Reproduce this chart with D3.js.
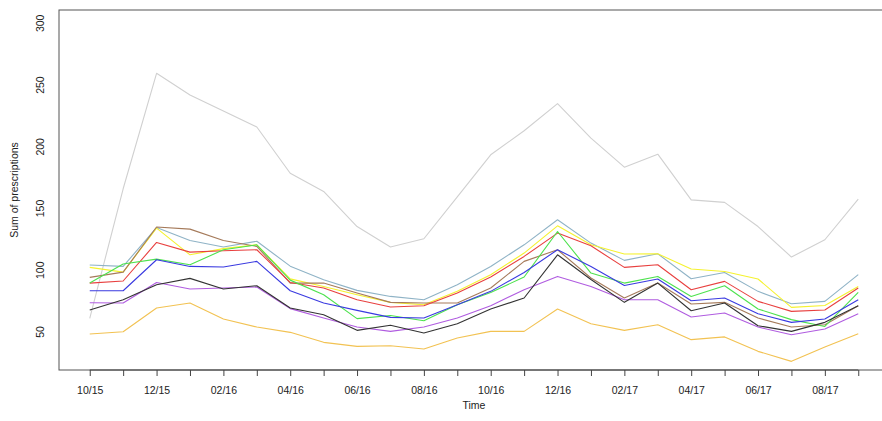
<!DOCTYPE html>
<html>
<head>
<meta charset="utf-8">
<script src="https://cdn.jsdelivr.net/npm/d3@7"></script>
<style>
  html, body { margin: 0; padding: 0; background: #fff; }
  svg { display: block; font-family: "Liberation Sans", Arial, Helvetica, sans-serif; }
</style>
</head>
<body>
<svg id="chart" width="882" height="421"></svg>
<script>
// Monthly periods, October 2015 through September 2017
const months = ["10/15","11/15","12/15","01/16","02/16","03/16","04/16","05/16","06/16","07/16","08/16","09/16",
                "10/16","11/16","12/16","01/17","02/17","03/17","04/17","05/17","06/17","07/17","08/17","09/17"];

// Labelled x ticks (every second month)
const xTickLabels = ["10/15","12/15","02/16","04/16","06/16","08/16","10/16","12/16","02/17","04/17","06/17","08/17"];
const yTicks = [50, 100, 150, 200, 250, 300];

// Sum of prescriptions per series and month
const seriesLightGray = [61, 166, 259.5, 242, 229, 216, 178.6, 163.8, 135.4, 118.8, 125.5, 159.5, 193.5, 213, 235, 207, 183.5, 194, 157, 155, 135.4, 110.7, 124.7, 157.6];
const seriesSteel     = [104.2, 103.1, 134.6, 124.1, 118.8, 123.5, 103.3, 92.3, 83.7, 78.8, 76.1, 88.3, 103.1, 120.6, 140.9, 122, 108, 113.3, 93.1, 98.2, 82.9, 72.9, 74.8, 96.4];
const seriesYellow    = [102.3, 98.5, 134.1, 112.5, 117.5, 120.6, 93, 86.9, 80.2, 74, 72.1, 82.9, 96.4, 113.9, 136, 120.6, 113.1, 113.3, 101, 99, 92.9, 69.9, 71.5, 86.9];
const seriesRed       = [89.6, 91.3, 122.5, 114.7, 115.8, 116.6, 90.1, 85.6, 76.1, 70.2, 71.3, 81.6, 94.5, 111.2, 130.1, 119.8, 102.3, 104.4, 84.2, 91, 74.8, 66.7, 67.8, 85.6];
const seriesBrown     = [94.2, 98.5, 135, 133.3, 124.1, 119.3, 89.6, 89.6, 81.6, 74, 73.5, 73.5, 85.6, 107.2, 116.6, 93.7, 77.5, 89.6, 72.7, 74, 61.3, 54, 55.9, 71.3];
const seriesGreen     = [89.6, 105, 109, 104.4, 116.6, 120.6, 92, 80.2, 60.8, 63.4, 59.1, 72.1, 82, 94.5, 131.4, 97.7, 89.6, 95, 78.8, 87.5, 68.6, 60, 54.5, 82];
const seriesBlue      = [83.4, 83.4, 108.5, 103.1, 102.6, 107.2, 83.4, 73.5, 67.5, 61.8, 61.3, 72.1, 82.9, 98.2, 116.6, 103.1, 87.7, 92.9, 75.3, 77.5, 64.8, 57.8, 60.5, 76.1];
const seriesBlack     = [67.8, 76.1, 88.3, 93.4, 84.8, 87.5, 69.4, 64, 51.3, 55.4, 49.2, 56.7, 68.6, 77.5, 112.5, 92.5, 74, 89.6, 67.2, 73.5, 55.1, 50.5, 57.8, 71.3];
const seriesPurple    = [73.7, 73.5, 90.1, 84.8, 85.6, 86.4, 68.9, 61.3, 54, 50.5, 54, 61.3, 71.3, 84.2, 95, 86.9, 76.1, 76.1, 62.1, 65.4, 54, 47.8, 52.4, 64.8];
const seriesGold      = [48.4, 50.2, 69.4, 73.5, 60.5, 54, 49.7, 41.6, 38.3, 38.9, 36.2, 45.1, 50.5, 50.5, 68.6, 56.7, 51.3, 55.9, 43.8, 46, 34.3, 26.2, 37.9, 48.6];

const seriesList = [
  { values: seriesLightGray, color: "#d0d0d0" },
  { values: seriesSteel,     color: "#8fb3c6" },
  { values: seriesYellow,    color: "#f5f22e" },
  { values: seriesBrown,     color: "#a57a5a" },
  { values: seriesRed,       color: "#e8403f" },
  { values: seriesGreen,     color: "#4de24d" },
  { values: seriesBlue,      color: "#3a3ae0" },
  { values: seriesPurple,    color: "#b05ce0" },
  { values: seriesBlack,     color: "#333333" },
  { values: seriesGold,      color: "#f2c252" }
];

const svg = d3.select("#chart");
const plot = { left: 59, right: 889, top: 10, bottom: 370 };

// Index scale with the 4% padding used by base-style plots
const n = months.length;
const pad = (n - 1) * 0.04;
const x = d3.scaleLinear().domain([-pad, n - 1 + pad]).range([plot.left, plot.right]);
const yLim = [30, 300];
const yPad = (yLim[1] - yLim[0]) * 0.04;
const y = d3.scaleLinear().domain([yLim[0] - yPad, yLim[1] + yPad]).range([plot.bottom, plot.top]);

// Series lines
const line = d3.line().x((d, i) => x(i)).y(d => y(d));
svg.append("g").attr("clip-path", null)
  .selectAll("path").data(seriesList).join("path")
  .attr("d", d => line(d.values))
  .attr("fill", "none")
  .attr("stroke", d => d.color)
  .attr("stroke-width", 1.1)
  .attr("stroke-linejoin", "round");

// Plot frame
svg.append("rect")
  .attr("x", plot.left).attr("y", plot.top)
  .attr("width", plot.right - plot.left).attr("height", plot.bottom - plot.top)
  .attr("fill", "none").attr("stroke", "#555").attr("stroke-width", 1);

// X axis: a tick for every month, labels every second month
const xAxis = d3.axisBottom(x)
  .tickValues(d3.range(n))
  .tickSize(6)
  .tickSizeOuter(0)
  .tickFormat(i => xTickLabels.includes(months[i]) ? months[i] : "");
const gx = svg.append("g").attr("transform", `translate(0,${plot.bottom})`).call(xAxis);
gx.select(".domain").attr("d", `M${x(0)},0H${x(n - 1)}`).attr("stroke", "#444");
gx.selectAll(".tick line").attr("stroke", "#444");
gx.selectAll(".tick text")
  .attr("y", 17)
  .attr("dy", "0.71em")
  .attr("fill", "#222")
  .style("font-size", "10.5px")
  .style("font-family", "'Liberation Sans', Arial, sans-serif");

// Y axis labels, rotated
const gy = svg.append("g");
gy.selectAll("text").data(yTicks).join("text")
  .attr("transform", d => `translate(44,${y(d)}) rotate(-90)`)
  .attr("text-anchor", "middle")
  .attr("fill", "#222")
  .style("font-size", "10.5px")
  .text(d => d);

// Axis titles
svg.append("text")
  .attr("x", (plot.left + plot.right) / 2)
  .attr("y", 409)
  .attr("text-anchor", "middle")
  .attr("fill", "#222")
  .style("font-size", "10.5px")
  .text("Time");

svg.append("text")
  .attr("transform", `translate(18,${(plot.top + plot.bottom) / 2}) rotate(-90)`)
  .attr("text-anchor", "middle")
  .attr("fill", "#222")
  .style("font-size", "10.5px")
  .text("Sum of prescriptions");
</script>
</body>
</html>
